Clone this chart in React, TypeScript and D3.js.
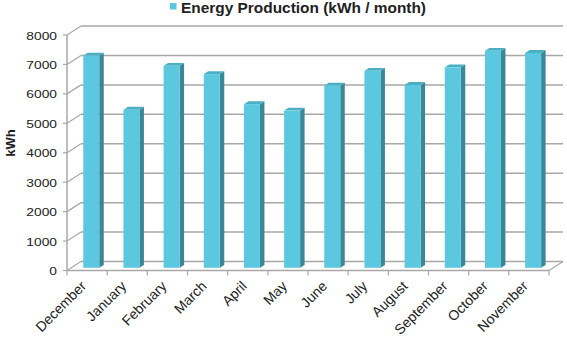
import React from "react";
import * as d3 from "d3";

const months = ["December","January","February","March","April","May","June","July","August","September","October","November"];
const production = [7210, 5370, 6860, 6580, 5560, 5340, 6190, 6690, 6210, 6810, 7370, 7300];
const yTicks = [0,1000,2000,3000,4000,5000,6000,7000,8000];
const legendLabel = "Energy Production (kWh / month)";
const yLabel = "kWh";

const W = 567, H = 341;
const X0 = 67, X1 = 549;
const DX = 14, DY = -9;
const F = 0.3;   // bar front depth fraction
const D = 0.32;  // bar depth fraction
const BAR_W = 16;

const FRONT = "#5CC8E0";
const SIDE = "#3A8797";
const TOP = "#4AAFC5";
const GRID = "#A8A8A8";

export default function App() {
  const x = d3.scaleBand<string>().domain(months).range([X0, X1]).padding(0);
  const y = d3.scaleLinear().domain([0, 8000]).range([270.5, 35]);
  const bw = x.bandwidth();
  const font = "'Liberation Sans', Arial, sans-serif";

  const boundaries = months.map(m => x(m)!).concat([X1]);

  return (
    <svg width={W} height={H} style={{ display: "block", position: "absolute", left: 0, top: 0 }}>
      <rect width={W} height={H} fill="#fff" />
      {/* legend */}
      <rect x={170} y={3} width={6.5} height={6.5} fill={FRONT} />
      <text x={181} y={13} fontFamily={font} fontWeight="bold" fontSize={14} textLength={245} lengthAdjust="spacingAndGlyphs" fill="#222">{legendLabel}</text>

      {/* back wall gridlines and side diagonals */}
      {yTicks.map(t => (
        <g key={t}>
          <line x1={X0 + DX} x2={X1 + DX} y1={y(t) + DY} y2={y(t) + DY} stroke={GRID} strokeWidth={1.5} />
          <line x1={X0} x2={X0 + DX} y1={y(t)} y2={y(t) + DY} stroke={GRID} strokeWidth={1.2} />
          <line x1={X0 - 4} x2={X0} y1={y(t)} y2={y(t)} stroke={GRID} strokeWidth={1.2} />
          <g transform={`translate(57,${y(t) + 4.5}) scale(1.2,1)`}>
            <text textAnchor="end" fontFamily={font} fontSize={11.5} fill="#222">{t}</text>
          </g>
        </g>
      ))}
      {/* floor */}
      <line x1={X0} x2={X1} y1={y(0)} y2={y(0)} stroke={GRID} strokeWidth={1.5} />
      <line x1={X1} x2={X1 + DX} y1={y(0)} y2={y(0) + DY} stroke={GRID} strokeWidth={1.2} />
      {/* front vertical axis */}
      <line x1={X0} x2={X0} y1={y(0)} y2={y(8000)} stroke={GRID} strokeWidth={1.5} />
      {/* x ticks */}
      {boundaries.map((b, i) => (
        <line key={i} x1={b} x2={b} y1={y(0)} y2={y(0) + 5} stroke={GRID} strokeWidth={1.2} />
      ))}

      {/* bars */}
      {months.map((m, i) => {
        const x0 = x(m)! + (bw - BAR_W) / 2 + F * DX;
        const x1 = x0 + BAR_W;
        const bottom = y(0) + F * DY;
        const top = y(production[i]) + F * DY;
        const ddx = D * DX, ddy = D * DY;
        return (
          <g key={m}>
            <polygon points={`${x1},${top} ${x1 + ddx},${top + ddy} ${x1 + ddx},${bottom + ddy} ${x1},${bottom}`} fill={SIDE} />
            <polygon points={`${x0},${top} ${x1},${top} ${x1 + ddx},${top + ddy} ${x0 + ddx},${top + ddy}`} fill={TOP} />
            <rect x={x0} y={top} width={BAR_W} height={bottom - top} fill={FRONT} />
          </g>
        );
      })}

      {/* category labels */}
      {months.map(m => (
        <g key={m} transform={`translate(${x(m)! + bw / 2},${287}) rotate(-45)`}>
          <text textAnchor="end" fontFamily={font} fontSize={14} fill="#222">{m}</text>
        </g>
      ))}

      {/* y label */}
      <g transform={`translate(15,143) rotate(-90)`}>
        <text textAnchor="middle" fontFamily={font} fontWeight="bold" fontSize={13} fill="#222">{yLabel}</text>
      </g>
    </svg>
  );
}
